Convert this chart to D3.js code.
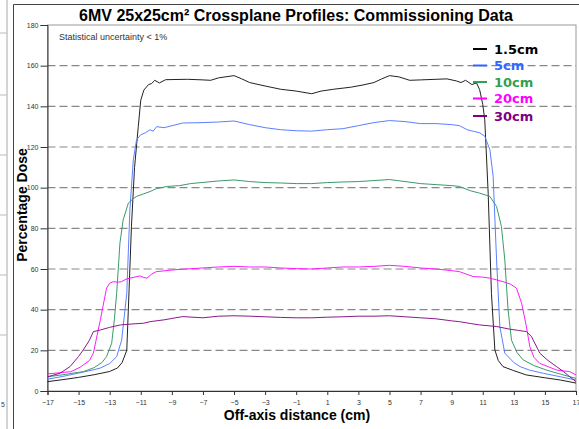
<!DOCTYPE html>
<html>
<head>
<meta charset="utf-8">
<script src="https://cdn.jsdelivr.net/npm/d3@7"></script>
<style>
  body { margin: 0; background: #fff; }
  svg { display: block; }
  .tick text { fill: #333; }
</style>
</head>
<body>
<div id="chart"></div>
<script>
var width = 579;
var height = 429;
var plot = { left: 47.5, right: 576, top: 25, bottom: 391 };

// profiles: [off-axis cm, % dose]
var depth15 = [[-17,4.6],[-16,5.6],[-15,6.7],[-14,8.0],[-13,9.6],[-12.5,11.3],[-12.2,14],[-11.9,20],[-11.75,50],[-11.6,81],[-11.4,110],[-11.16,130],[-11.0,143],[-10.8,148],[-10.5,150.7],[-10.3,151.2],[-10.1,152.8],[-9.8,151.5],[-9.4,153.1],[-8,153.3],[-7,153],[-6.5,152.8],[-6,154],[-5,155.1],[-4.5,153.5],[-4,151.7],[-3,150],[-2,148.4],[-1,147.5],[0,146.2],[0.6,147.5],[1.4,148.4],[2.5,149.4],[3.3,150.5],[4,151.7],[4.5,153.5],[5,155.1],[5.6,154.5],[6.3,152.8],[7,153],[8,153.3],[8.7,153.5],[9.3,152.5],[9.6,151.7],[9.9,152.8],[10.3,150.7],[10.6,151.5],[10.8,148.2],[11.0,141],[11.13,133.4],[11.35,97.3],[11.56,48],[11.78,20.2],[12.0,15],[12.3,12],[13,10],[13.8,7.9],[15,6.5],[16,5.4],[17,3.9]];
var depth5 = [[-17,5.8],[-16,7.2],[-15,8.8],[-14,10.5],[-13.6,11.3],[-13,13.5],[-12.55,16.9],[-12.23,25],[-11.9,48],[-11.7,89],[-11.48,113.7],[-11.27,123.6],[-11.0,126],[-10.7,127],[-10.4,128.5],[-10.2,127.8],[-9.98,130],[-9.5,129.5],[-8.3,131.8],[-7,132],[-6,132.3],[-5,132.8],[-4,131],[-3,129.5],[-2,128.5],[-1,128],[0,127.8],[1,128.5],[2,129],[3,130.5],[4,132],[5,133],[6,132.5],[7,131.5],[8,131.5],[9,131],[9.5,130.5],[10,128.5],[10.4,127.7],[10.8,127],[11.13,125.3],[11.46,118.7],[11.67,105.5],[11.89,64.5],[12.1,31.7],[12.42,18.6],[13,14],[13.4,12],[14,10.3],[14.9,8.7],[16,7],[17,5.4]];
var depth10 = [[-17,7],[-16,8],[-15,9.2],[-14.7,9.5],[-14,11.5],[-13.5,14],[-13.2,16.9],[-12.87,23.5],[-12.7,35],[-12.55,48],[-12.34,72.7],[-12.13,84.2],[-11.8,92.4],[-11.5,94.5],[-11.27,95.7],[-10.8,97],[-10.4,98.1],[-10,99.5],[-9.3,100.6],[-8.5,101],[-7.8,102],[-6,103.3],[-5,103.8],[-4,103],[-3,102.5],[-2,102.3],[-1,102],[0,102],[1,102.5],[2,102.8],[3,103],[4,103.5],[5,104],[6,103],[7,102],[8,101.5],[9,101],[9.5,100.6],[10.2,98.5],[10.8,97.3],[11.46,95.7],[11.89,90.7],[12.2,81],[12.42,64.5],[12.63,39.9],[12.85,25],[13.2,19],[13.6,15.3],[14.3,12.5],[15.1,10.3],[16,8.3],[17,6.2]];
var depth20 = [[-17,8.4],[-16.2,9],[-15.5,9.5],[-14.9,11.7],[-14.7,12.8],[-14.3,15],[-14.05,18.6],[-13.6,35],[-13.2,50.6],[-13.0,53],[-12.77,53.8],[-12.5,53.5],[-12.23,53.8],[-11.95,55],[-11.7,55.5],[-11.05,56.6],[-10.8,55.8],[-10.6,55.5],[-10.3,57.5],[-10,58.7],[-9,59.5],[-8.3,59.9],[-7,60.5],[-6,61],[-5,61.3],[-4,61],[-3,61],[-2,60.5],[-1,60.2],[0,60],[1,60.5],[2,61],[3,61],[4,61.3],[5,61.8],[6,61.3],[7,60.5],[8,60],[9,59.2],[9.5,58.7],[10.38,56.3],[11,56],[11.46,55.5],[12.3,53.8],[12.8,52.5],[13.17,50.6],[13.5,43.2],[13.8,32],[14.03,21.8],[14.3,16.5],[14.67,13.6],[15.2,12],[15.75,10.3],[16.6,9.5],[17,7.9]];
var depth30 = [[-17,7],[-16.2,8.7],[-15.55,12],[-15,17],[-14.7,20.2],[-14.3,25],[-14.05,29.2],[-13.6,30],[-13,31.3],[-12.77,31.7],[-12.3,32.5],[-11.5,33],[-10.84,33.3],[-10.4,34.1],[-9.5,35],[-8.3,36.6],[-7,36],[-6,36.8],[-5,37],[-4,36.8],[-3,36.5],[-2,36.2],[-1,36],[0,36],[1,36.3],[2,36.5],[3,36.8],[4,36.8],[5,37],[6,36.5],[7,36],[8,35.5],[9,34.5],[9.5,34.1],[10.2,33.2],[10.8,32.5],[11.9,31.7],[12.74,30.4],[13.3,29.8],[13.82,29.2],[14.14,26.7],[14.67,18.6],[15.2,15],[15.75,12],[16.2,9.5],[16.6,7],[17,4.6]];

var seriesNames = ['1.5cm', '5cm', '10cm', '20cm', '30cm'];
var lineColors = ['#222222', '#5b7fff', '#3a9a6a', '#ff1aff', '#8a1a8a'];
var legendColors = ['#000000', '#3366ff', '#33a052', '#ff00ff', '#800080'];
var xTicks = [-17,-15,-13,-11,-9,-7,-5,-3,-1,1,3,5,7,9,11,13,15,17];
var yTicks = [0,20,40,60,80,100,120,140,160,180];
var gridValues = [20,40,60,80,100,120,140,160];

var series = [depth15, depth5, depth10, depth20, depth30];

var svg = d3.select('#chart')
    .append('svg')
    .attr('width', width)
    .attr('height', height);

// bits of the neighbouring panel on the far left
var side = svg.append('g');
side.append('line')
    .attr('x1', 7).attr('x2', 7).attr('y1', 0).attr('y2', height)
    .attr('stroke', '#aaa').attr('stroke-width', 1);
[33, 95, 155, 215, 275, 335].forEach(function(y) {
    side.append('line')
        .attr('x1', 0).attr('x2', 7).attr('y1', y).attr('y2', y)
        .attr('stroke', '#bbb');
});
side.append('text')
    .attr('x', 1).attr('y', 407)
    .style('font', '7px "Liberation Sans Narrow", Arial, sans-serif')
    .attr('fill', '#444')
    .text('5');

// chart frame
svg.append('path')
    .attr('d', 'M13.5,' + height + 'V4.5H' + width)
    .attr('fill', 'none')
    .attr('stroke', '#444');

var x = d3.scaleLinear().domain([-17, 17]).range([plot.left, plot.right]);
var y = d3.scaleLinear().domain([0, 180]).range([plot.bottom, plot.top]);

// plot border
svg.append('rect')
    .attr('x', plot.left).attr('y', plot.top)
    .attr('width', plot.right - plot.left)
    .attr('height', plot.bottom - plot.top)
    .attr('fill', 'none')
    .attr('stroke', '#999');

svg.append('g')
    .selectAll('line')
    .data(gridValues)
    .enter()
    .append('line')
    .attr('x1', plot.left).attr('x2', plot.right)
    .attr('y1', function(d) { return y(d); })
    .attr('y2', function(d) { return y(d); })
    .attr('stroke', '#888')
    .attr('stroke-width', 1.2)
    .attr('stroke-dasharray', '8,4');

var yAxis = d3.axisLeft(y).tickValues(yTicks).tickSize(7).tickPadding(2);
var xAxis = d3.axisBottom(x).tickValues(xTicks).tickSize(4).tickPadding(5);

var gy = svg.append('g')
    .attr('transform', 'translate(' + plot.left + ',0)')
    .call(yAxis);
var gx = svg.append('g')
    .attr('transform', 'translate(0,' + plot.bottom + ')')
    .call(xAxis);
[gx, gy].forEach(function(g) {
    g.select('.domain').attr('stroke', '#333');
    g.selectAll('.tick line').attr('stroke', '#333');
    g.selectAll('.tick text')
        .style('font', '7px "Liberation Sans Narrow", Arial, sans-serif');
});

var line = d3.line()
    .x(function(d) { return x(d[0]); })
    .y(function(d) { return y(d[1]); });

svg.append('g')
    .selectAll('path')
    .data(series)
    .enter()
    .append('path')
    .attr('d', line)
    .attr('fill', 'none')
    .attr('stroke', function(d, i) { return lineColors[i]; })
    .attr('stroke-width', 1);

// legend
var legend = svg.append('g')
    .selectAll('g')
    .data(seriesNames)
    .enter()
    .append('g')
    .attr('transform', function(d, i) { return 'translate(473,' + [49, 65.5, 82, 98.5, 116][i] + ')'; });
legend.append('line')
    .attr('x1', 0).attr('x2', 14)
    .attr('stroke', function(d, i) { return legendColors[i]; })
    .attr('stroke-width', 2);
legend.append('text')
    .attr('x', 21).attr('dy', '0.36em')
    .style('font', 'bold 13px "DejaVu Sans", sans-serif')
    .attr('fill', function(d, i) { return legendColors[i]; })
    .text(function(d) { return d; });

svg.append('text')
    .attr('x', 296).attr('y', 21)
    .attr('text-anchor', 'middle')
    .style('font', 'bold 16px Arial, "Liberation Sans", sans-serif')
    .text('6MV 25x25cm\u00b2 Crossplane Profiles: Commissioning Data');

svg.append('text')
    .attr('x', 59).attr('y', 40)
    .style('font', '9px Arial, "Liberation Sans", sans-serif')
    .attr('fill', '#333')
    .text('Statistical uncertainty < 1%');

svg.append('text')
    .attr('x', 297).attr('y', 420)
    .attr('text-anchor', 'middle')
    .style('font', 'bold 14px Arial, "Liberation Sans", sans-serif')
    .text('Off-axis distance (cm)');

svg.append('text')
    .attr('transform', 'translate(27,205) rotate(-90)')
    .attr('text-anchor', 'middle')
    .style('font', 'bold 14px Arial, "Liberation Sans", sans-serif')
    .text('Percentage Dose');
</script>
</body>
</html>
